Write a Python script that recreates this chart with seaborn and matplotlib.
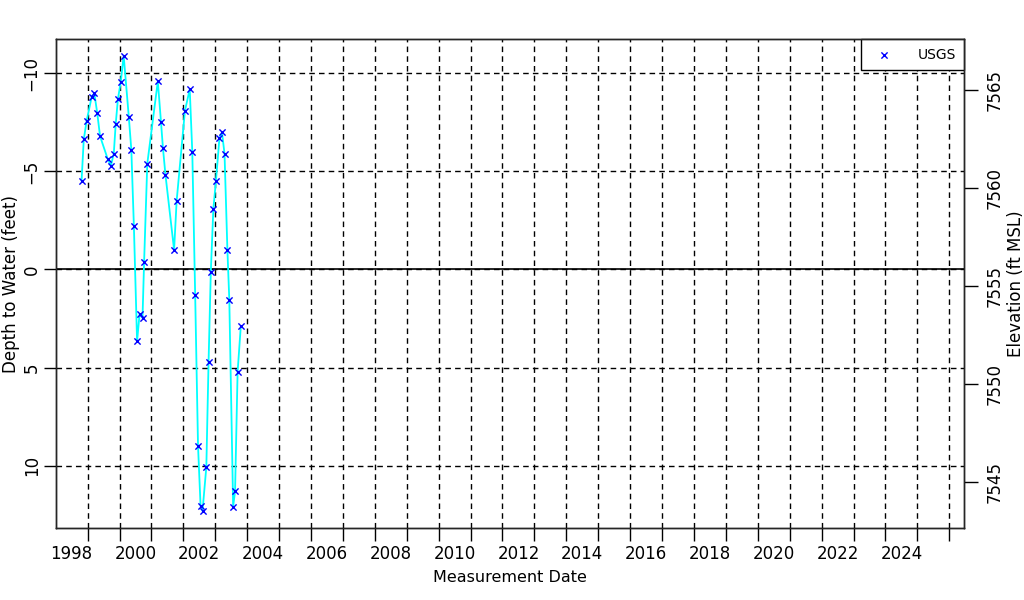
import numpy as np
import pandas as pd
import matplotlib
matplotlib.use('Agg')
import matplotlib.pyplot as plt
import seaborn as sns

# measurement dates (decimal years) and depth to water (feet)
dates = [1998.31, 1998.38, 1998.47, 1998.63, 1998.71, 1998.80, 1998.89, 1999.13,
         1999.23, 1999.32, 1999.38, 1999.45, 1999.54, 1999.63, 1999.79, 1999.87,
         1999.95, 2000.05, 2000.13, 2000.22, 2000.27, 2000.37, 2000.70, 2000.80,
         2000.86, 2000.94, 2001.21, 2001.29, 2001.55, 2001.70, 2001.78, 2001.87,
         2001.96, 2002.04, 2002.10, 2002.22, 2002.29, 2002.36, 2002.44, 2002.52,
         2002.63, 2002.71, 2002.79, 2002.88, 2002.94, 2003.06, 2003.12, 2003.20,
         2003.30]
depth = [-4.51, -6.63, -7.58, -8.81, -8.98, -7.99, -6.79, -5.63,
         -5.29, -5.90, -7.41, -8.69, -9.57, -10.90, -7.79, -6.10,
         -2.21, 3.65, 2.25, 2.47, -0.37, -5.39, -9.59, -7.50,
         -6.20, -4.81, -1.00, -3.50, -8.09, -9.18, -6.00, 1.28,
         9.00, 12.06, 12.31, 10.07, 4.71, 0.14, -3.09, -4.49,
         -6.68, -6.99, -5.90, -1.00, 1.55, 12.08, 11.31, 5.22,
         2.89]

land_surface = 7555.85  # elevation of depth 0 (ft MSL)
label_years = list(range(1998, 2025, 2))
grid_years = [y + 0.5 for y in range(1998, 2026)]
depth_ticks = [-10, -5, 0, 5, 10]
elev_ticks = [7545, 7550, 7555, 7560, 7565]

df = pd.DataFrame({'date': dates, 'depth': depth})

sns.set_style('ticks')
plt.rcParams['font.family'] = ['DejaVu Sans']
plt.rcParams['axes.linewidth'] = 1.0
for k in ['text.color', 'axes.labelcolor', 'xtick.color', 'ytick.color',
          'xtick.labelcolor', 'ytick.labelcolor']:
    plt.rcParams[k] = 'black'

fig = plt.figure(figsize=(10.24, 6), dpi=100)
ax = fig.add_axes([0.0547, 0.1195, 0.8870, 0.8147])

sns.lineplot(data=df, x='date', y='depth', sort=False, color='cyan',
             linewidth=1.3, ax=ax)
sns.scatterplot(data=df, x='date', y='depth', marker='x', color='blue',
                s=20, linewidth=1.0, ax=ax, label='USGS', zorder=5)

ax.set_xlim(1997.51, 2025.97)
ax.set_ylim(13.19, -11.72)

# x axis: labels on even years, ticks + grid at mid-year
ax.set_xticks(label_years)
ax.set_xticklabels([str(y) for y in label_years])
ax.set_xticks(grid_years, minor=True)
ax.tick_params(axis='x', which='major', length=0, pad=12, labelsize=12)
ax.tick_params(axis='x', which='minor', length=9, width=1, direction='out',
               color='black')
ax.grid(which='minor', axis='x', color='black', linestyle=(0, (4, 3)),
        linewidth=1)

ax.set_yticks(depth_ticks)
ax.set_yticklabels([str(t).replace('-', '\u2212') for t in depth_ticks])
ax.tick_params(axis='y', which='major', length=9, width=1, direction='out',
               labelsize=12, labelrotation=90, pad=2)
for lab in ax.get_yticklabels():
    lab.set_va('center')
ax.grid(which='major', axis='y', color='black', linestyle=(0, (4, 3)),
        linewidth=1)
ax.axhline(0, color='black', linewidth=1.2, zorder=1)

ax.set_xlabel('Measurement Date', fontsize=11.5, labelpad=5)
ax.set_ylabel('Depth to Water (feet)', fontsize=12, labelpad=2)

for s in ax.spines.values():
    s.set_color('black')
    s.set_linewidth(1)

# right axis: elevation
ax2 = ax.twinx()
ax2.set_ylim(land_surface - 13.19, land_surface + 11.72)
ax2.set_yticks(elev_ticks)
ax2.tick_params(axis='y', length=10, width=1, direction='out', labelsize=12,
                labelrotation=90, pad=5)
for lab in ax2.get_yticklabels():
    lab.set_va('center')
ax2.set_ylabel('Elevation (ft MSL)', fontsize=12, labelpad=3)
ax2.grid(False)

leg = ax.legend(loc='upper right', borderaxespad=0, fancybox=False,
                edgecolor='black', framealpha=1, fontsize=10,
                handletextpad=1.3, borderpad=0.6, handlelength=2.2)
leg.get_frame().set_linewidth(1)

fig.savefig('out.png', dpi=100)
